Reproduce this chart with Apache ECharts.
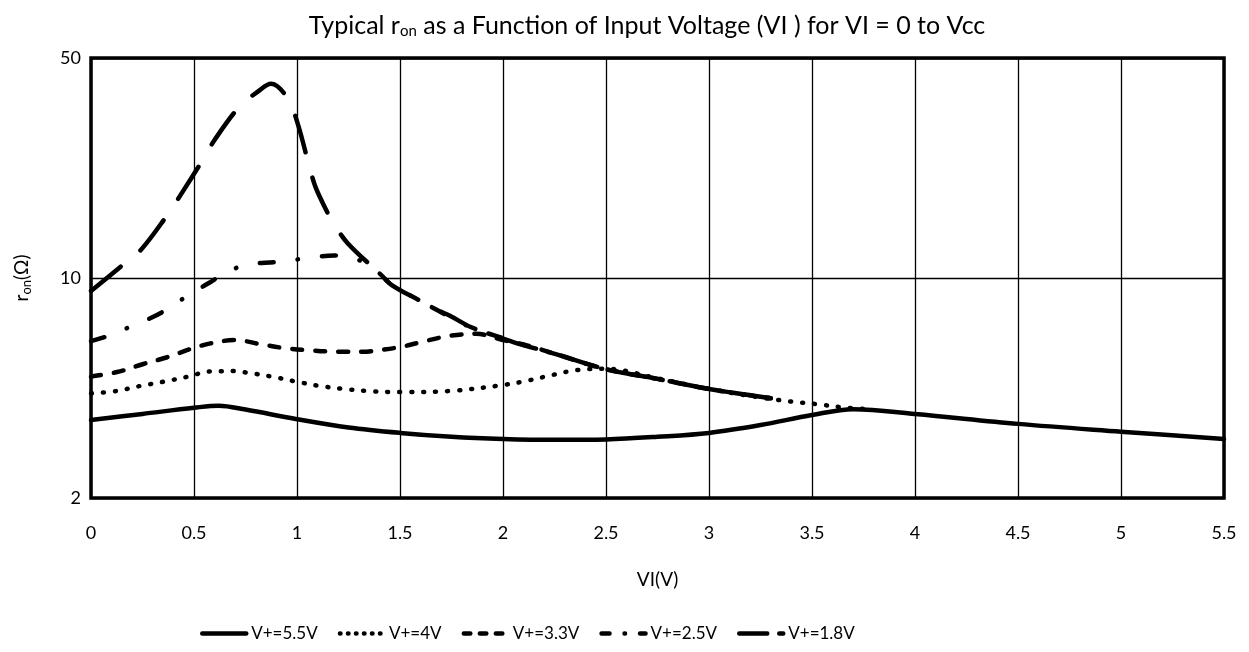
<!DOCTYPE html>
<html>
<head>
<meta charset="utf-8">
<script src="https://cdn.jsdelivr.net/npm/echarts@6/dist/echarts.min.js"></script>
<style>
  html, body { margin: 0; padding: 0; background: #fff; }
  #chart { width: 1249px; height: 652px; }
</style>
</head>
<body>
<div id="chart"></div>
<script>
// values (VI in volts, r_on in ohms)
const names = ['V+=5.5V', 'V+=4V', 'V+=3.3V', 'V+=2.5V', 'V+=1.8V']

const vi55 = [0, 0.25, 0.5, 0.62, 0.75, 1.0, 1.25, 1.5, 1.75, 2.0, 2.25, 2.5, 2.75, 3.0, 3.25, 3.5, 3.7, 4.0, 4.5, 5.0, 5.5]
const ron55 = [3.54, 3.70, 3.87, 3.93, 3.82, 3.56, 3.35, 3.22, 3.13, 3.08, 3.06, 3.07, 3.13, 3.22, 3.41, 3.67, 3.83, 3.70, 3.44, 3.25, 3.08]

const vi40 = [0, 0.12, 0.24, 0.35, 0.47, 0.58, 0.7, 0.76, 0.88, 1.0, 1.11, 1.23, 1.35, 1.5, 1.75, 2.0, 2.12, 2.24, 2.36, 2.5, 2.75, 3.0, 3.25, 3.4, 3.53, 3.65, 3.75]
const ron40 = [4.30, 4.37, 4.54, 4.68, 4.86, 5.05, 5.06, 5.0, 4.86, 4.68, 4.54, 4.44, 4.37, 4.34, 4.38, 4.57, 4.72, 4.92, 5.1, 5.15, 4.8, 4.44, 4.17, 4.05, 3.97, 3.88, 3.84]

const vi33 = [0, 0.14, 0.25, 0.37, 0.48, 0.58, 0.7, 0.83, 0.93, 1.05, 1.2, 1.32, 1.4, 1.51, 1.62, 1.74, 1.87, 2.0, 2.12, 2.26, 2.5, 2.75, 3.0, 3.3]
const ron33 = [4.86, 5.05, 5.32, 5.6, 5.94, 6.2, 6.35, 6.15, 6.0, 5.9, 5.83, 5.83, 5.9, 6.05, 6.3, 6.55, 6.65, 6.35, 6.1, 5.72, 5.13, 4.78, 4.44, 4.15]

const vi25 = [0, 0.1, 0.19, 0.29, 0.38, 0.47, 0.57, 0.65, 0.75, 0.9, 1.07, 1.18, 1.28, 1.34, 1.4, 1.46, 1.6, 1.68, 1.79, 1.87, 1.95, 2.05, 2.26, 2.5, 2.75, 3.0, 3.3]
const ron25 = [6.3, 6.6, 7.0, 7.46, 8.03, 8.8, 9.62, 10.35, 11.0, 11.25, 11.6, 11.8, 11.5, 11.1, 10.35, 9.5, 8.45, 7.91, 7.25, 6.84, 6.6, 6.26, 5.72, 5.13, 4.78, 4.44, 4.15]

const vi18 = [0, 0.154, 0.243, 0.372, 0.429, 0.542, 0.599, 0.72, 0.81, 0.874, 0.955, 1.003, 1.06, 1.092, 1.149, 1.175, 1.246, 1.4, 1.46, 1.6, 1.68, 1.74, 1.84, 1.95, 2.05, 2.26, 2.5, 2.75, 3.0, 3.3]
const ron18 = [9.1, 11.0, 12.3, 15.9, 18.1, 23.7, 27.4, 35.0, 39.1, 41.4, 37.2, 31.0, 22.6, 19.3, 16.1, 15.0, 12.9, 10.35, 9.5, 8.45, 7.91, 7.6, 7.0, 6.6, 6.26, 5.72, 5.13, 4.78, 4.44, 4.15]

const xTicks = { min: 0, max: 5.5, step: 0.5 }
const yTicks = [2, 10, 50]

// dash patterns: in the plot, and a shorter version for the legend swatches
const lineDash = ['solid', [1, 11], [10, 13], [14, 24, 0.5, 24], [38, 26]]
const legendDash = ['solid', [0.5, 7.5], [6.5, 9.5], [8, 15, 0.5, 15], [28, 12]]

const toPairs = (xs, ys) => xs.map((x, i) => [x, ys[i]])
const curves = [
  toPairs(vi55, ron55),
  toPairs(vi40, ron40),
  toPairs(vi33, ron33),
  toPairs(vi25, ron25),
  toPairs(vi18, ron18)
]

const font = 'Lato, "Open Sans", sans-serif'

const chart = echarts.init(document.getElementById('chart'))

const option = {
  backgroundColor: '#fff',
  animation: false,
  color: ['#000'],
  title: {
    text: 'Typical r{sub|on} as a Function of Input Voltage (VI ) for VI = 0 to Vcc',
    left: 642,
    top: 7,
    textAlign: 'center',
    textStyle: {
      fontFamily: font,
      fontSize: 25,
      fontWeight: 'normal',
      color: '#000',
      rich: {
        sub: { fontFamily: font, fontSize: 15, color: '#000', padding: [12, 0, 0, 0] }
      }
    }
  },
  legend: {
    data: names.map((name, i) => ({
      name: name,
      lineStyle: { type: legendDash[i] }
    })),
    left: 195,
    top: 620,
    itemWidth: 44,
    itemHeight: 20,
    itemGap: 20,
    itemStyle: { opacity: 0 },
    lineStyle: { width: 4.5, cap: 'round', color: '#000' },
    textStyle: { fontFamily: font, fontSize: 17, color: '#000' }
  },
  grid: {
    left: 91,
    right: 25,
    top: 58,
    bottom: 154,
    show: true,
    borderColor: '#000',
    borderWidth: 3.5
  },
  xAxis: {
    type: 'value',
    min: xTicks.min,
    max: xTicks.max,
    interval: xTicks.step,
    name: 'VI(V)',
    nameLocation: 'middle',
    nameGap: 72,
    nameTextStyle: { fontFamily: font, fontSize: 19, color: '#000' },
    axisLine: { show: false },
    axisTick: { show: false },
    axisLabel: { fontFamily: font, fontSize: 18, color: '#000', margin: 26 },
    splitLine: { lineStyle: { color: '#000', width: 1.3 } }
  },
  yAxis: {
    type: 'log',
    logBase: 5,
    min: yTicks[0],
    max: yTicks[2],
    interval: 1,
    name: 'r{sub|on}(Ω)',
    nameLocation: 'middle',
    nameRotate: 90,
    nameGap: 58,
    nameTextStyle: {
      fontFamily: font,
      fontSize: 19,
      color: '#000',
      rich: {
        sub: { fontFamily: font, fontSize: 13, color: '#000', padding: [10, 0, 0, 0] }
      }
    },
    axisLine: { show: false },
    axisTick: { show: false },
    axisLabel: {
      fontFamily: font,
      fontSize: 18,
      color: '#000',
      margin: 10,
      formatter: v => String(Math.round(v))
    },
    splitLine: { lineStyle: { color: '#000', width: 1.3 } }
  },
  series: names.map((name, i) => ({
    name: name,
    type: 'line',
    data: curves[i],
    smooth: 0.35,
    showSymbol: false,
    symbol: 'none',
    itemStyle: { color: '#000' },
    lineStyle: {
      color: '#000',
      width: 4.5,
      type: lineDash[i],
      cap: 'round',
      join: 'round'
    }
  }))
}

chart.setOption(option)
</script>
</body>
</html>
